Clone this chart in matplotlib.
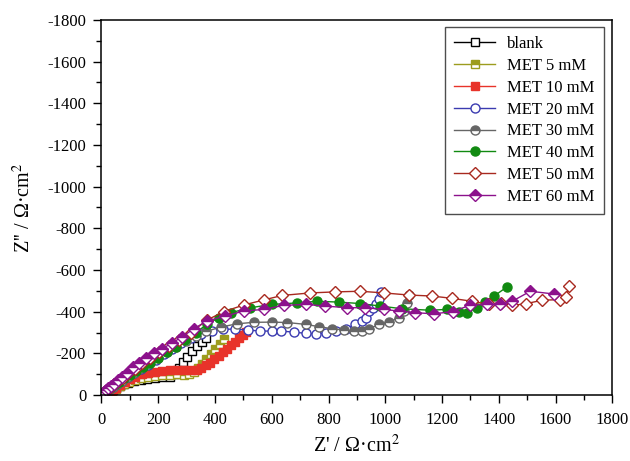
import matplotlib
matplotlib.use("Agg")
import matplotlib.pyplot as plt
from matplotlib.ticker import MultipleLocator, FuncFormatter

# ============================================================
# DATA  (Z' in ohm cm2, minus Z'' in ohm cm2)
# ============================================================

blank_x = [18, 25, 33, 42, 52, 64, 78, 95, 115, 138, 162, 188, 215, 240,
           258, 272, 287, 303, 320, 338, 355, 368]
blank_y = [0, 8, 16, 25, 34, 43, 52, 60, 67, 73, 78, 82, 85, 88,
           100, 130, 160, 185, 210, 235, 255, 272]

met5_x = [20, 28, 38, 50, 64, 80, 98, 118, 140, 165, 190, 215, 240, 265,
          290, 310, 325, 340, 355, 370, 385, 400, 416, 432]
met5_y = [0, 10, 20, 31, 42, 53, 63, 72, 80, 87, 92, 96, 98, 99,
          97, 100, 112, 130, 150, 172, 195, 220, 245, 270]

met10_x = [22, 30, 40, 52, 66, 82, 100, 120, 142, 165, 190, 215, 240, 265,
           290, 315, 335, 352, 368, 383, 398, 413, 428, 443, 458, 472, 486,
           498, 508]
met10_y = [0, 10, 22, 36, 50, 64, 77, 89, 99, 107, 113, 117, 119, 120,
           119, 118, 121, 130, 142, 156, 172, 188, 205, 222, 240, 256, 272,
           288, 302]

met20_x = [10, 18, 28, 40, 55, 72, 92, 115, 140, 165, 192, 220, 250, 282,
           315, 350, 388, 428, 470, 515, 560, 600, 632, 678, 720, 755, 790,
           825, 860, 895, 918, 932, 944, 956, 968, 978, 984]
met20_y = [8, 16, 26, 38, 52, 68, 86, 105, 125, 146, 170, 195, 222, 250,
           275, 295, 308, 315, 317, 312, 307, 307, 307, 302, 296, 294, 299,
           307, 318, 339, 355, 371, 403, 420, 435, 460, 495]

met30_x = [10, 18, 28, 40, 55, 72, 92, 115, 140, 168, 198, 230, 263, 298,
           333, 368, 420, 478, 537, 601, 655, 720, 767, 814, 855, 890, 918,
           942, 978, 1013, 1048, 1065, 1075, 1085]
met30_y = [8, 16, 26, 38, 52, 68, 86, 106, 128, 152, 178, 205, 232, 258,
           283, 305, 326, 342, 349, 350, 348, 339, 328, 318, 312, 307, 307,
           318, 339, 350, 371, 403, 443, 480]

met40_x = [8, 15, 24, 35, 48, 63, 80, 100, 122, 146, 172, 200, 230, 262,
           296, 333, 372, 415, 455, 525, 601, 689, 760, 836, 912, 982, 1060,
           1158, 1218, 1258, 1288, 1322, 1352, 1382, 1428]
met40_y = [10, 18, 27, 38, 51, 65, 80, 97, 115, 135, 156, 180, 205, 232,
           262, 300, 340, 372, 395, 419, 435, 442, 450, 446, 439, 427, 414,
           407, 411, 400, 395, 419, 445, 474, 518]

met50_x = [8, 14, 22, 32, 44, 58, 75, 95, 118, 144, 172, 204, 238, 275,
           315, 372, 431, 501, 571, 637, 736, 824, 912, 995, 1082, 1165,
           1235, 1305, 1365, 1406, 1447, 1494, 1553, 1617, 1635, 1648]
met50_y = [10, 18, 27, 38, 51, 66, 84, 104, 127, 152, 177, 205, 235, 265,
           300, 360, 400, 432, 456, 478, 490, 495, 498, 490, 480, 475,
           464, 450, 435, 440, 430, 438, 455, 458, 471, 522]

met60_x = [5, 10, 16, 24, 33, 44, 57, 72, 90, 110, 132, 156, 184, 214,
           248, 283, 325, 372, 436, 501, 571, 642, 719, 789, 865, 930, 995,
           1048, 1106, 1170, 1238, 1300, 1359, 1405, 1447, 1511, 1593]
met60_y = [8, 15, 22, 32, 42, 55, 70, 87, 108, 134, 155, 177, 200, 222,
           250, 278, 318, 355, 379, 403, 411, 430, 435, 427, 419, 419, 411,
           403, 395, 390, 400, 432, 435, 435, 450, 498, 485]

SERIES = [
    ("blank", blank_x, blank_y),
    ("MET 5 mM", met5_x, met5_y),
    ("MET 10 mM", met10_x, met10_y),
    ("MET 20 mM", met20_x, met20_y),
    ("MET 30 mM", met30_x, met30_y),
    ("MET 40 mM", met40_x, met40_y),
    ("MET 50 mM", met50_x, met50_y),
    ("MET 60 mM", met60_x, met60_y),
]

# colour, marker, fillstyle, markersize
STYLES = {
    "blank": ("#000000", "s", "none", 5.5),
    "MET 5 mM": ("#9c9c1e", "s", "top", 5.5),
    "MET 10 mM": ("#e8332a", "s", "full", 5.5),
    "MET 20 mM": ("#3b3bb0", "o", "none", 6.5),
    "MET 30 mM": ("#666666", "o", "top", 6.5),
    "MET 40 mM": ("#118a11", "o", "full", 6.5),
    "MET 50 mM": ("#a8291f", "D", "none", 6.0),
    "MET 60 mM": ("#8c118c", "D", "top", 6.0),
}


# ============================================================
# PLOT
# ============================================================

plt.rcParams["font.family"] = ["Liberation Serif", "DejaVu Serif"]
plt.rcParams["mathtext.fontset"] = "stix"
plt.rcParams["axes.unicode_minus"] = False

fig = plt.figure(figsize=(6.3, 4.61), dpi=100)
ax = fig.add_axes([0.161, 0.143, 0.811, 0.814])

for name, xs, ys in SERIES:
    color, marker, fill, ms = STYLES[name]
    kw = dict(
        color=color,
        marker=marker,
        markersize=ms,
        markeredgecolor=color,
        markeredgewidth=1.0,
        linewidth=1.0,
        label=name,
    )
    if fill == "none":
        kw["markerfacecolor"] = "white"
    elif fill == "top":
        kw["fillstyle"] = "top"
        kw["markerfacecolor"] = color
        kw["markerfacecoloralt"] = "white"
    else:
        kw["markerfacecolor"] = color
    ax.plot(xs, [-v for v in ys], **kw)

ax.set_xlim(0, 1800)
ax.set_ylim(0, -1800)

ax.xaxis.set_major_locator(MultipleLocator(200))
ax.xaxis.set_minor_locator(MultipleLocator(100))
ax.yaxis.set_major_locator(MultipleLocator(200))
ax.yaxis.set_minor_locator(MultipleLocator(100))
ax.yaxis.set_major_formatter(FuncFormatter(lambda v, p: f"{int(round(v))}"))

ax.tick_params(which="major", direction="out", length=6, width=1.0,
               labelsize=12)
ax.tick_params(axis="x", which="major", pad=6.5)
ax.tick_params(axis="y", which="major", pad=5)
ax.tick_params(which="minor", direction="out", length=3.5, width=1.0)
for side in ax.spines.values():
    side.set_linewidth(1.1)

ax.set_xlabel("Z' / Ω·cm$^{2}$", fontsize=14.5, labelpad=5)
ax.set_ylabel("Z'' / Ω·cm$^{2}$", fontsize=14.5, labelpad=9)

ax.legend(
    loc="upper right",
    bbox_to_anchor=(0.983, 0.981),
    borderaxespad=0.0,
    fontsize=12,
    frameon=True,
    fancybox=False,
    edgecolor="#222222",
    handlelength=2.5,
    labelspacing=0.35,
    borderpad=0.55,
    handletextpad=0.7,
)
leg = ax.get_legend()
leg.get_frame().set_linewidth(1.0)

fig.savefig("out.png", dpi=100)
